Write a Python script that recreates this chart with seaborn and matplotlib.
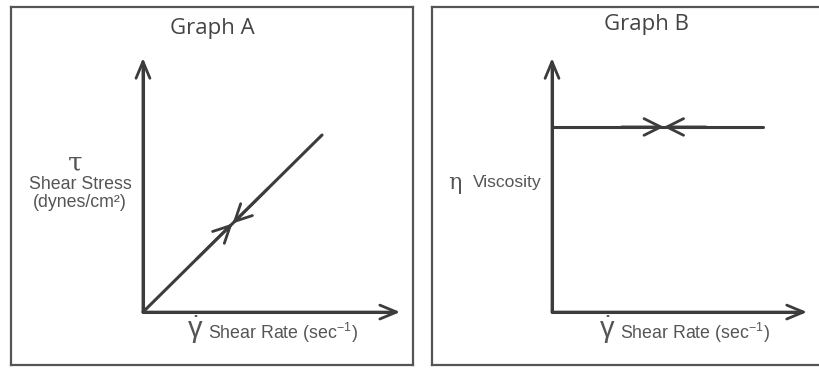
import matplotlib
matplotlib.use('Agg')
import matplotlib.pyplot as plt
import seaborn as sns
import pandas as pd

# data: Newtonian fluid, stress proportional to rate, viscosity constant
shear_rate = [0, 10]
shear_stress = [0, 10]
viscosity = [5, 5]
meet_a = 5.0   # where the up/down arrows meet on graph A
meet_b = 5.3   # same for graph B

titles = ['Graph A', 'Graph B']
rate_label = 'Shear Rate (sec$^{-1}$)'

sns.set_theme(style='white')
plt.rcParams['font.family'] = ['Liberation Sans', 'DejaVu Sans']
plt.rcParams['mathtext.default'] = 'regular'

line_col = '#3c3c3c'
text_col = '#555555'
box_col = '#555555'

fig = plt.figure(figsize=(8.19, 3.68), dpi=100)
axA = fig.add_axes([11 / 819, 3 / 368, 402 / 819, 358 / 368])
axB = fig.add_axes([432 / 819, 3 / 368, 398 / 819, 358 / 368])


def frame(ax):
    for s in ax.spines.values():
        s.set_visible(True)
        s.set_color(box_col)
        s.set_linewidth(1.6)
    ax.set_xticks([])
    ax.set_yticks([])
    ax.set_xlabel('')
    ax.set_ylabel('')


def arrow(ax, start, end, hw=0.25):
    ax.annotate('', xy=end, xytext=start,
                arrowprops=dict(arrowstyle='->,head_length=0.6,head_width=%s' % hw,
                                color=line_col, lw=2, mutation_scale=20,
                                shrinkA=0, shrinkB=0))


# ---- Graph A
dfA = pd.DataFrame({'rate': shear_rate, 'stress': shear_stress})
sns.lineplot(data=dfA, x='rate', y='stress', ax=axA, color=line_col, lw=2.2)
axA.set_xlim(-7.37, 15.08)
axA.set_ylim(-2.99, 17.23)
arrow(axA, (0, 0), (14.36, 0))
arrow(axA, (0, 0), (0, 14.35))
axA.plot([0, 14.0], [0, 0], color=line_col, lw=2.2)
axA.plot([0, 0], [0, 14.0], color=line_col, lw=2.2)
slope = shear_stress[-1] / shear_rate[-1]
arrow(axA, (meet_a - 2, (meet_a - 2) * slope), (meet_a, meet_a * slope), 0.3)
arrow(axA, (meet_a + 2, (meet_a + 2) * slope), (meet_a, meet_a * slope), 0.3)
axA.text(0.5, 0.941, titles[0], transform=axA.transAxes, ha='center', va='center',
         fontsize=16, color='#444444', family=['Open Sans', 'DejaVu Sans'])
axA.text(-3.8, 8.4, 'τ', ha='center', va='center', fontsize=19, color=text_col,
         family=['DejaVu Serif'])
axA.text(-3.52, 7.18, 'Shear Stress', ha='center', va='center', fontsize=12.8, color=text_col)
axA.text(-3.52, 6.16, '(dynes/cm²)', ha='center', va='center', fontsize=12.8, color=text_col)
axA.text(2.9, -1.0, r'$\dot{\gamma}$', ha='center', va='center', fontsize=21, color=text_col)
axA.text(3.63, -1.19, rate_label, ha='left', va='center', fontsize=12.8, color=text_col)
frame(axA)

# ---- Graph B
dfB = pd.DataFrame({'rate': shear_rate, 'viscosity': viscosity})
sns.lineplot(data=dfB, x='rate', y='viscosity', ax=axB, color=line_col, lw=2.2)
axB.set_xlim(-5.69, 13.18)
axB.set_ylim(-1.43, 8.24)
arrow(axB, (0, 0), (12.09, 0))
arrow(axB, (0, 0), (0, 6.86))
axB.plot([0, 11.8], [0, 0], color=line_col, lw=2.2)
axB.plot([0, 0], [0, 6.6], color=line_col, lw=2.2)
arrow(axB, (meet_b - 2, viscosity[0]), (meet_b, viscosity[0]), 0.3)
arrow(axB, (meet_b + 2, viscosity[0]), (meet_b, viscosity[0]), 0.3)
axB.text(0.54, 0.95, titles[1], transform=axB.transAxes, ha='center', va='center',
         fontsize=16, color='#444444', family=['Open Sans', 'DejaVu Sans'])
axB.text(-4.6, 3.49, 'η', ha='center', va='center', fontsize=16, color=text_col,
         family=['DejaVu Serif'])
axB.text(-3.74, 3.49, 'Viscosity', ha='left', va='center', fontsize=12.6, color=text_col)
axB.text(2.6, -0.49, r'$\dot{\gamma}$', ha='center', va='center', fontsize=21, color=text_col)
axB.text(3.22, -0.57, rate_label, ha='left', va='center', fontsize=12.8, color=text_col)
frame(axB)
axB.spines['right'].set_visible(False)

fig.savefig('out.png', dpi=100, facecolor='white')
